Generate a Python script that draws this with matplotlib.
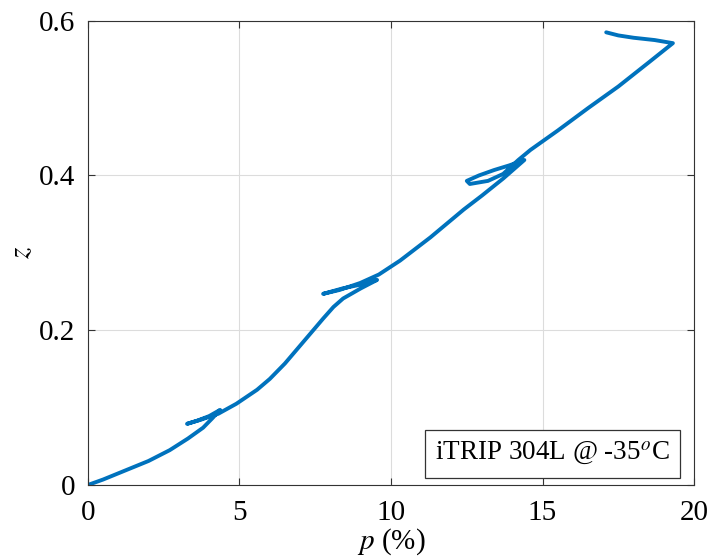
import matplotlib.pyplot as plt
import matplotlib as mpl

mpl.rcParams["font.family"] = ["Liberation Serif", "DejaVu Serif"]
mpl.rcParams["mathtext.fontset"] = "stix"

# strain p (%) vs martensite fraction z
p = [0, 0.5, 1.0, 1.5, 2.0, 2.7, 3.3, 3.8, 4.1, 4.36,
     4.0, 3.6, 3.27, 3.7, 4.3, 4.9, 5.58, 6.0, 6.5, 7.0,
     7.5, 7.76, 8.1, 8.42, 9.0, 9.54, 9.0, 8.4, 7.76, 8.3,
     8.98, 9.6, 10.3, 11.3, 12.4, 13.0, 13.7, 14.4, 13.9, 13.4,
     12.9, 12.5, 12.6, 13.2, 13.7, 14.2, 14.6, 15.5, 16.5, 17.5,
     18.5, 19.3, 18.7, 18.0, 17.5, 17.1]
z = [0, 0.007, 0.015, 0.023, 0.031, 0.045, 0.060, 0.074, 0.086, 0.097,
     0.089, 0.083, 0.079, 0.084, 0.092, 0.105, 0.123, 0.137, 0.157, 0.180,
     0.203, 0.215, 0.230, 0.241, 0.254, 0.265, 0.259, 0.254, 0.247, 0.252,
     0.261, 0.272, 0.290, 0.320, 0.356, 0.374, 0.396, 0.420, 0.413, 0.407,
     0.400, 0.393, 0.389, 0.393, 0.402, 0.420, 0.433, 0.458, 0.487, 0.515,
     0.546, 0.571, 0.575, 0.578, 0.581, 0.585]

label = r"iTRIP 304L @ -35$^o$C"

fig = plt.figure(figsize=(7.09, 5.6), dpi=100)
ax = fig.add_axes([0.124, 0.134, 0.855, 0.829])
ax.plot(p, z, color="#0072BD", lw=2.8, solid_joinstyle="round", solid_capstyle="round")

ax.set_xlim(0, 20)
ax.set_ylim(0, 0.6)
ax.set_xticks([0, 5, 10, 15, 20])
ax.set_yticks([0, 0.2, 0.4, 0.6])
ax.set_yticklabels(["0", "0.2", "0.4", "0.6"])
ax.grid(True, color="#dcdcdc", lw=0.8)
ax.set_axisbelow(True)
ax.tick_params(direction="in", labelsize=21, length=5, color="#333333",
               top=True, right=True)
ax.tick_params(axis="x", pad=11)
ax.tick_params(axis="y", pad=9)
for sp in ax.spines.values():
    sp.set_color("#333333")
    sp.set_linewidth(0.8)

ax.set_xlabel(r"$p$ (%)", fontsize=21, labelpad=0)
ax.set_ylabel(r"$z$", fontsize=21, labelpad=3)

ax.text(0.96, 0.038, label, transform=ax.transAxes, ha="right", va="bottom",
        fontsize=19.5,
        bbox=dict(boxstyle="square,pad=0.38", fc="white", ec="#333333", lw=0.9))

plt.savefig("out.png", dpi=100)
plt.close()
